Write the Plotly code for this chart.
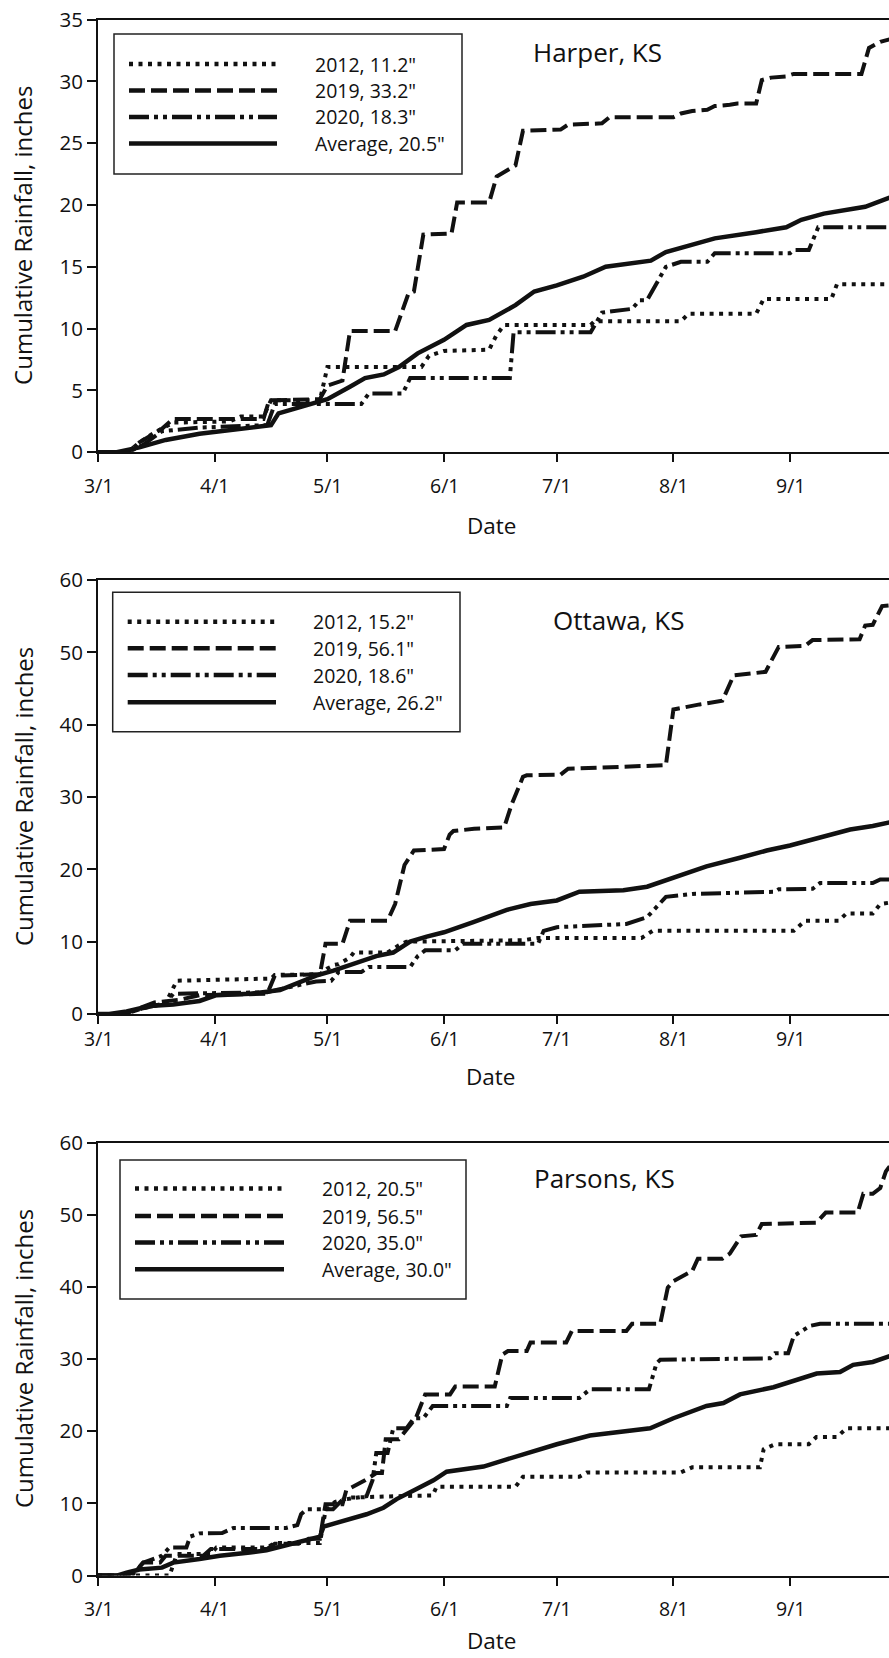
import plotly.graph_objects as go

W, H = 889, 1658

# ---------------- data ----------------
tick_days = [0, 31, 61, 92, 122, 153, 184]
tick_labels = ["3/1", "4/1", "5/1", "6/1", "7/1", "8/1", "9/1"]
series_names = ["2012", "2019", "2020", "Average"]

# Harper, KS  (days since 3/1, cumulative inches)
harper_2012_day = [0, 8, 11, 15, 20, 35, 38, 44, 46, 59, 61, 62, 86, 88, 92, 104, 106, 108, 131, 132, 155, 157, 175, 177, 195, 196.5, 210.5]
harper_2012_in = [0, 0, 0.8, 1.6, 2.4, 2.5, 2.9, 2.9, 4.2, 4.2, 6.9, 6.9, 6.9, 7.8, 8.2, 8.3, 9.5, 10.3, 10.3, 10.6, 10.6, 11.2, 11.2, 12.4, 12.4, 13.6, 13.6]
harper_2019_day = [0, 8, 11, 17, 20, 44, 45.5, 59, 61, 65, 67, 79, 82.5, 84, 86.5, 94, 95.5, 104, 106, 111, 113, 123, 125, 134, 136, 153, 155, 158, 162, 164, 168, 170, 175, 176.5, 179, 183, 185, 203, 205, 208, 210.5]
harper_2019_in = [0, 0, 0.8, 1.9, 2.7, 2.7, 4.2, 4.3, 5.4, 5.8, 9.8, 9.8, 12.8, 13.0, 17.6, 17.7, 20.2, 20.2, 22.3, 23.2, 26.0, 26.1, 26.5, 26.6, 27.1, 27.1, 27.4, 27.6, 27.7, 28.0, 28.1, 28.2, 28.2, 30.1, 30.3, 30.4, 30.6, 30.6, 32.7, 33.2, 33.4]
harper_2020_day = [0, 8, 12, 17, 27, 45, 47, 70, 72, 81, 83, 109.5, 110.5, 131, 134, 142, 144, 146, 151, 155, 162, 164, 184, 185, 189, 191.5, 210.5]
harper_2020_in = [0, 0, 0.6, 1.7, 2.0, 2.2, 3.9, 3.9, 4.75, 4.75, 6.0, 6.0, 9.7, 9.7, 11.3, 11.6, 12.3, 12.3, 15.0, 15.4, 15.4, 16.1, 16.1, 16.35, 16.35, 18.2, 18.2]
harper_avg_day = [0, 5, 11, 18, 27, 36, 46, 48, 54, 61, 67, 71, 76, 80, 85, 92, 98, 104, 111, 116, 122, 129, 135, 144, 147, 151, 160, 164, 175, 183, 187, 193, 204, 210.5]
harper_avg_in = [0, 0, 0.4, 1.0, 1.5, 1.8, 2.2, 3.15, 3.7, 4.3, 5.3, 6.0, 6.3, 6.9, 8.0, 9.1, 10.3, 10.7, 11.9, 13.0, 13.5, 14.2, 15.0, 15.4, 15.5, 16.2, 16.9, 17.3, 17.8, 18.2, 18.8, 19.3, 19.85, 20.6]
harper_totals = [11.2, 33.2, 18.3, 20.5]

# Ottawa, KS
ottawa_2012_day = [0, 7, 12, 18, 20, 21, 46, 47, 59, 61, 63, 64, 67, 68, 77, 80, 82, 93, 113, 117, 144.5, 147.5, 185, 188, 197, 199, 206, 208, 210.5]
ottawa_2012_in = [0, 0, 0.8, 1.5, 3.6, 4.6, 4.9, 5.4, 5.5, 6.3, 6.8, 6.9, 7.8, 8.5, 8.5, 9.5, 10.0, 10.1, 10.2, 10.5, 10.5, 11.5, 11.5, 12.9, 12.9, 13.9, 13.9, 15.2, 15.4]
ottawa_2019_day = [0, 7, 10, 15, 22, 27, 45, 47, 59, 60.5, 65, 67, 77, 79, 81.5, 84, 92, 93.5, 94.5, 100, 108, 110, 113, 114, 123, 125, 151, 153, 160, 166, 169, 177.5, 179, 181, 188, 190, 202.5, 204, 206, 208.5, 210.5]
ottawa_2019_in = [0, 0, 0.6, 1.6, 2.0, 2.6, 2.8, 5.3, 5.5, 9.7, 9.7, 12.9, 12.9, 15.2, 20.6, 22.6, 22.8, 24.8, 25.3, 25.6, 25.8, 29.0, 32.8, 33.0, 33.1, 33.9, 34.4, 42.1, 42.8, 43.3, 46.8, 47.3, 48.8, 50.75, 50.9, 51.7, 51.8, 53.7, 53.8, 56.4, 56.5]
ottawa_2020_day = [0, 7, 12, 18, 20, 45, 48, 52, 58, 62, 64, 70, 72, 83, 85, 87, 95, 97, 117, 118.5, 122, 140.5, 146, 148, 151, 158, 180, 181, 190, 192, 206, 208, 210.5]
ottawa_2020_in = [0, 0, 0.8, 1.5, 2.8, 3.0, 3.4, 3.8, 4.5, 4.6, 5.8, 5.8, 6.5, 6.5, 8.0, 8.8, 8.8, 9.7, 9.7, 11.5, 12.0, 12.45, 13.4, 14.5, 16.2, 16.6, 16.9, 17.25, 17.3, 18.1, 18.1, 18.6, 18.6]
ottawa_avg_day = [0, 3, 7.6, 13.8, 20, 27, 31.5, 40.4, 48.4, 52, 58, 62.6, 67.9, 74, 78.5, 83, 87.4, 92, 99.8, 108.7, 115, 122, 128, 139.7, 146, 153, 161.8, 170.7, 177.8, 184, 193, 200, 206, 210.5]
ottawa_avg_in = [0, 0, 0.35, 1.1, 1.3, 1.8, 2.6, 2.8, 3.3, 4.05, 5.3, 6.0, 7.0, 8.0, 8.5, 10.0, 10.7, 11.3, 12.7, 14.4, 15.2, 15.7, 16.9, 17.1, 17.6, 18.9, 20.4, 21.6, 22.6, 23.3, 24.6, 25.5, 26.0, 26.5]
ottawa_totals = [15.2, 56.1, 18.6, 26.2]

# Parsons, KS
parsons_2012_day = [0, 19, 20, 21, 30, 31.5, 45, 47, 59, 60.5, 63, 67, 79, 89, 90, 111, 113, 128, 130, 155, 158, 176, 177, 180, 189, 191, 196.5, 199, 210.5]
parsons_2012_in = [0, 0, 1.5, 3.0, 3.0, 3.9, 3.9, 4.5, 4.5, 9.0, 10.2, 10.8, 11.0, 11.1, 12.3, 12.3, 13.7, 13.7, 14.3, 14.3, 15.0, 15.0, 17.5, 18.2, 18.2, 19.2, 19.2, 20.4, 20.4]
parsons_2019_day = [0, 8, 11, 12, 16.5, 18, 28, 30, 45, 47, 54, 56, 59, 60.5, 65, 66, 71, 74, 75.5, 76.5, 80, 84.5, 87, 93.6, 95, 105.5, 107.5, 109, 114, 115, 124.5, 126, 140.5, 142, 149.5, 151.5, 153, 158, 159.5, 166, 168, 171, 175, 176.5, 191, 193.5, 202, 203.5, 206, 208, 209.5, 210.5]
parsons_2019_in = [0, 0, 1.2, 1.8, 1.8, 2.75, 2.75, 3.7, 3.7, 4.4, 4.4, 5.1, 5.1, 9.9, 9.9, 11.8, 13.2, 14.2, 14.2, 18.9, 18.9, 21.8, 25.1, 25.1, 26.2, 26.2, 30.6, 31.1, 31.1, 32.3, 32.3, 33.9, 33.9, 34.9, 34.9, 39.9, 40.8, 42.2, 43.9, 43.9, 44.6, 47.0, 47.2, 48.7, 48.9, 50.3, 50.3, 52.9, 52.9, 53.7, 56.0, 56.7]
parsons_2020_day = [0, 9, 12, 17, 19, 23.5, 24.5, 27, 33, 36, 50, 52.5, 53, 54, 55.5, 62.5, 65, 71.4, 73, 74, 77, 78.5, 82, 84, 86.5, 89, 108.7, 109.6, 128, 130.8, 146.5, 148.5, 149.5, 178.7, 180, 183.5, 185, 189.3, 192, 210.5]
parsons_2020_in = [0, 0, 1.8, 2.75, 3.9, 3.9, 5.4, 5.85, 5.9, 6.6, 6.6, 7.0, 7.0, 8.5, 9.2, 9.2, 10.5, 11.0, 13.2, 17.0, 17.0, 20.4, 20.4, 21.8, 21.8, 23.5, 23.5, 24.6, 24.6, 25.8, 25.8, 29.4, 29.9, 30.1, 30.8, 30.8, 33.2, 34.6, 34.9, 34.9]
parsons_avg_day = [0, 5, 7.6, 11, 17, 20, 27, 32.4, 40.4, 44.8, 50, 59, 60, 67, 71.4, 75.9, 79.4, 84.7, 89.2, 92.7, 102.5, 108.7, 114, 122, 130.8, 139.7, 146.8, 153, 161.8, 166.3, 170.7, 179.6, 184, 191.1, 197.3, 200.8, 206, 210.5]
parsons_avg_in = [0, 0, 0.4, 0.85, 1.1, 1.8, 2.3, 2.75, 3.2, 3.5, 4.2, 5.4, 6.8, 7.75, 8.5, 9.4, 10.6, 12.0, 13.2, 14.4, 15.1, 16.1, 17.0, 18.2, 19.4, 19.9, 20.4, 21.8, 23.5, 23.9, 25.1, 26.1, 26.8, 28.0, 28.2, 29.2, 29.6, 30.4]
parsons_totals = [20.5, 56.5, 35.0, 30.0]

# ---------------- styling ----------------
FONT = "Open Sans"
INK = "#111111"
line_styles = {
    "2012": dict(dash="4px,5.5px", width=4),
    "2019": dict(dash="16px,6px", width=4),
    "2020": dict(dash="20px,5px,4px,5px,4px,5px", width=4),
    "Average": dict(dash="solid", width=4.5),
}

def px(x):
    return x / W

def py(y):
    return 1 - y / H

panels = [
    dict(site="Harper, KS", totals=harper_totals, ymax=35, dtick=5,
         series=[(harper_2012_day, harper_2012_in), (harper_2019_day, harper_2019_in),
                 (harper_2020_day, harper_2020_in), (harper_avg_day, harper_avg_in)],
         top=19.5, bottom=452.3, tick_y=486, date_xy=(491.7, 525),
         box=(114, 34, 462, 174), lx=(129, 277), rows=[64, 90.5, 117, 143.5], tx=313,
         title_xy=(597.5, 52)),
    dict(site="Ottawa, KS", totals=ottawa_totals, ymax=60, dtick=10,
         series=[(ottawa_2012_day, ottawa_2012_in), (ottawa_2019_day, ottawa_2019_in),
                 (ottawa_2020_day, ottawa_2020_in), (ottawa_avg_day, ottawa_avg_in)],
         top=580, bottom=1014, tick_y=1038.5, date_xy=(490, 1076),
         box=(112.7, 592.3, 460, 731.7), lx=(127.7, 276), rows=[621.7, 648.3, 675, 702.3], tx=310.7,
         title_xy=(618, 619.5)),
    dict(site="Parsons, KS", totals=parsons_totals, ymax=60, dtick=10,
         series=[(parsons_2012_day, parsons_2012_in), (parsons_2019_day, parsons_2019_in),
                 (parsons_2020_day, parsons_2020_in), (parsons_avg_day, parsons_avg_in)],
         top=1142.5, bottom=1575.6, tick_y=1608, date_xy=(492, 1640),
         box=(120, 1160, 466, 1299), lx=(135, 284), rows=[1188.6, 1216.1, 1242.5, 1269.3], tx=320,
         title_xy=(604, 1178)),
]

X_LEFT = 98
X_MAX = (W - X_LEFT) / ((790 - 98) / 184)  # day at the right edge of the frame

fig = go.Figure()
shapes, annotations = [], []
layout_axes = {}

for i, p in enumerate(panels, start=1):
    sfx = "" if i == 1 else str(i)
    xa, ya = "x" + sfx, "y" + sfx
    for name, (d, v) in zip(series_names, p["series"]):
        assert len(d) == len(v), (p["site"], name)
        st = line_styles[name]
        fig.add_trace(go.Scatter(x=d, y=v, mode="lines", name=name, showlegend=False,
                                 xaxis=xa, yaxis=ya,
                                 line=dict(color=INK, width=st["width"], dash=st["dash"])))
    layout_axes["xaxis" + sfx] = dict(
        domain=[px(X_LEFT), 1], anchor=ya, range=[0, X_MAX], automargin=False,
        tickmode="array", tickvals=tick_days, ticktext=tick_labels, showticklabels=False,
        ticks="outside", ticklen=8, tickwidth=1.5, tickcolor=INK,
        showline=True, linecolor=INK, linewidth=2, mirror=True,
        showgrid=False, zeroline=False,
    )
    layout_axes["yaxis" + sfx] = dict(
        domain=[py(p["bottom"]), py(p["top"])], anchor=xa, range=[0, p["ymax"]], dtick=p["dtick"],
        automargin=False,
        ticks="outside", ticklen=9, tickwidth=1.5, tickcolor=INK,
        showline=True, linecolor=INK, linewidth=2, mirror=False,
        showgrid=False, zeroline=False,
        tickfont=dict(family=FONT, size=20.5, color=INK),
    )
    # x tick labels, placed on the axis scale
    for td, tl in zip(tick_days, tick_labels):
        annotations.append(dict(xref=xa, yref="paper", x=td, y=py(p["tick_y"]),
                                xanchor="center", yanchor="middle", showarrow=False,
                                text=tl, font=dict(family=FONT, size=19.5, color=INK)))
    dx, dy = p["date_xy"]
    annotations.append(dict(xref="paper", yref="paper", x=px(dx), y=py(dy),
                            xanchor="center", yanchor="middle", showarrow=False, borderpad=0,
                            text="Date", font=dict(family=FONT, size=22.5, color=INK)))
    annotations.append(dict(xref="paper", yref="paper", x=px(23), y=py((p["top"] + p["bottom"]) / 2),
                            xanchor="center", yanchor="middle", showarrow=False, textangle=-90,
                            text="Cumulative Rainfall, inches", font=dict(family=FONT, size=24, color=INK)))
    # legend box
    x0, y0, x1, y1 = p["box"]
    shapes.append(dict(type="rect", xref="paper", yref="paper",
                       x0=px(x0), x1=px(x1), y0=py(y1), y1=py(y0),
                       line=dict(color="#222222", width=1.5), fillcolor="white", layer="above"))
    for name, total, ry in zip(series_names, p["totals"], p["rows"]):
        st = line_styles[name]
        shapes.append(dict(type="line", xref="paper", yref="paper",
                           x0=px(p["lx"][0]), x1=px(p["lx"][1]), y0=py(ry), y1=py(ry),
                           line=dict(color=INK, width=4.5, dash=st["dash"]), layer="above"))
        annotations.append(dict(xref="paper", yref="paper", x=px(p["tx"]), y=py(ry),
                                xanchor="left", yanchor="middle", showarrow=False,
                                text=f'{name}, {total:.1f}"',
                                font=dict(family=FONT, size=19.5, color=INK)))
    tx, ty = p["title_xy"]
    annotations.append(dict(xref="paper", yref="paper", x=px(tx), y=py(ty),
                            xanchor="center", yanchor="middle", showarrow=False,
                            text=p["site"], font=dict(family=FONT, size=26, color=INK)))

fig.update_layout(
    width=W, height=H,
    margin=dict(l=0, r=0, t=0, b=0, pad=0, autoexpand=False),
    paper_bgcolor="white", plot_bgcolor="white",
    font=dict(family=FONT, color=INK),
    shapes=shapes, annotations=annotations,
    **layout_axes,
)

fig.write_html("out.html", config={"displayModeBar": False},
               post_script="document.body.style.margin='0';document.body.style.overflow='hidden';")
